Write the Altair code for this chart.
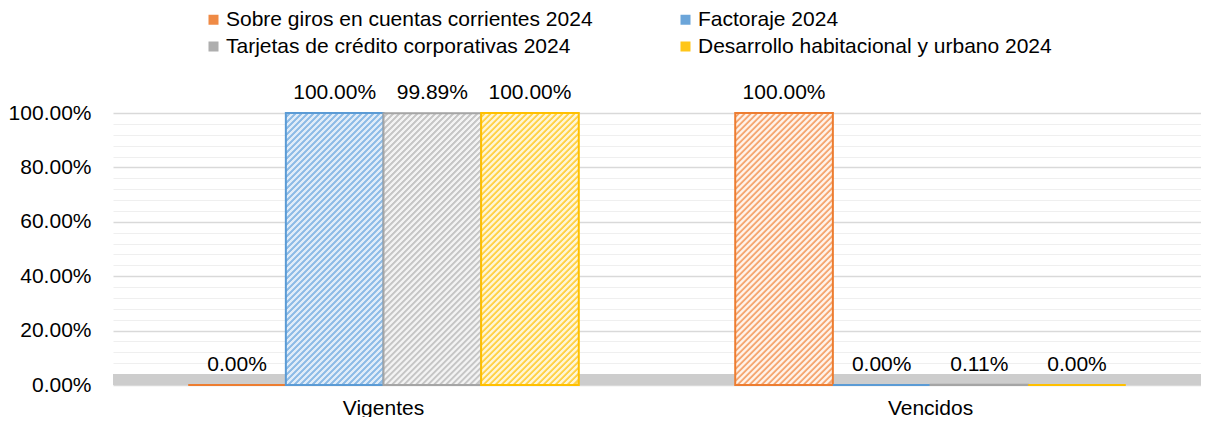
import altair as alt
import pandas as pd

# ---------------- data ----------------
categories = ["Vigentes", "Vencidos"]
series = [
    "Sobre giros en cuentas corrientes 2024",
    "Factoraje 2024",
    "Tarjetas de crédito corporativas 2024",
    "Desarrollo habitacional y urbano 2024",
]
values_vigentes = [0.00, 100.00, 99.89, 100.00]
values_vencidos = [100.00, 0.00, 0.11, 0.00]
y_label_values = [0, 20, 40, 60, 80, 100]
y_minor_step = 4

# ---------------- styles ----------------
stroke_colors = ["#ED7D31", "#5B9BD5", "#A5A5A5", "#FFC000"]
stripe_colors = ["#F5A874", "#8DBBE6", "#C6C6C6", "#FFD24A"]
bg_colors = ["#FFF3EA", "#E0ECF8", "#F3F3F3", "#FFF6D6"]
FONT = "Liberation Sans"
PLOT_W, PLOT_H = 1088, 272

rows = []
for cat, vals in zip(categories, [values_vigentes, values_vencidos]):
    for s, v in zip(series, vals):
        rows.append({"cat": cat, "series": s, "value": v})
df = pd.DataFrame(rows)


def stripes(bg, fg, bar_w=97.7, bar_h=272.0, period_px=6.0):
    """Diagonal '/' hatch emulated with a linear gradient (object bounding box)."""
    r = bar_h / bar_w
    a = (1 + r) / (1 + r * r)          # makes t run 0..1 over the bar
    p = period_px / (bar_w + bar_h)    # one stripe period in gradient units
    stops = []
    k = 0
    while (k + 1) * p <= 1.0:
        o = k * p
        stops += [
            {"offset": round(o, 6), "color": bg},
            {"offset": round(o + 0.38 * p, 6), "color": bg},
            {"offset": round(o + 0.55 * p, 6), "color": fg},
            {"offset": round(o + 0.85 * p, 6), "color": fg},
        ]
        k += 1
    stops.append({"offset": 1.0, "color": bg})
    return {"gradient": "linear", "x1": 0, "y1": 0, "x2": round(a, 6), "y2": round(a * r, 6), "stops": stops}


major_test = "datum.value % 20 === 0"
y_axis = alt.Axis(
    title=None,
    values=list(range(0, 101, y_minor_step)),
    labelExpr="indexof(" + str(y_label_values) + ", datum.value) >= 0 ? format(datum.value, '.2f') + '%' : ''",
    labelOverlap=False,
    grid=True,
    ticks=False, domain=False,
    labelFont=FONT, labelFontSize=21, labelColor="#000000", labelPadding=22,
    gridColor={"condition": {"test": major_test, "value": "#D9D9D9"}, "value": "#EFEFEF"},
    gridWidth={"condition": {"test": major_test, "value": 1.6}, "value": 1.2},
)
y_scale = alt.Scale(domain=[0, 100], nice=False)

x_enc = alt.X(
    "cat:N",
    sort=categories,
    scale=alt.Scale(domain=categories, paddingInner=0.286, paddingOuter=0.1375),
    axis=alt.Axis(
        title=None, labelAngle=0, ticks=False, domain=False, grid=False,
        labelFont=FONT, labelFontSize=21, labelColor="#000000", labelPadding=12,
    ),
)
xo_enc = alt.XOffset(
    "series:N", sort=series,
    scale=alt.Scale(domain=series, paddingInner=0, paddingOuter=0),
)
y_enc = alt.Y("value:Q", scale=y_scale, axis=y_axis)

base = alt.Chart(df)

floor = alt.Chart(pd.DataFrame({"floor": [0]})).mark_rect(color="#CDCDCD").encode(
    x=alt.value(0), x2=alt.value("width"),
    y=alt.YDatum(0, scale=y_scale, axis=y_axis, type="quantitative"),
    y2=alt.datum(4),
)

bar_layers = []
for s, sc, fc, bc in zip(series, stroke_colors, stripe_colors, bg_colors):
    bar_layers.append(
        base.transform_filter(alt.datum.series == s)
        .mark_bar(stroke=sc, strokeWidth=2, fill=stripes(bc, fc))
        .encode(x=x_enc, xOffset=xo_enc, y=y_enc)
    )

labels = (
    base.transform_calculate(label="format(datum.value, '.2f') + '%'")
    .mark_text(baseline="alphabetic", dy=-14, font=FONT, fontSize=21, color="#000000")
    .encode(x=x_enc, xOffset=xo_enc, y=y_enc, text="label:N")
)

legend_layer = (
    base.transform_filter("false")
    .mark_point(shape="square", filled=True, opacity=1)
    .encode(
        x=x_enc, xOffset=xo_enc, y=y_enc,
        color=alt.Color(
            "series:N",
            scale=alt.Scale(domain=series, range=stroke_colors),
            legend=alt.Legend(
                title=None, orient="none", legendX=90, legendY=-104,
                direction="horizontal",
                columns=2, columnPadding=82, rowPadding=5,
                symbolType="square", symbolSize=100, symbolOpacity=0.9,
                labelFont=FONT, labelFontSize=21, labelColor="#000000",
                labelLimit=700, labelOffset=2, padding=0,
            ),
        ),
    )
)

chart = (
    alt.layer(floor, *bar_layers, labels, legend_layer)
    .properties(
        width=PLOT_W, height=PLOT_H,
        padding={"left": 105, "top": 105, "right": 0, "bottom": 32},
        autosize=alt.AutoSizeParams(type="none"),
        background="#FFFFFF",
    )
    .configure_view(stroke=None)
    .configure_axisY(labelOverlap=False, grid=True)
)

chart.save("out.html", embed_options={"renderer": "svg", "actions": False})
